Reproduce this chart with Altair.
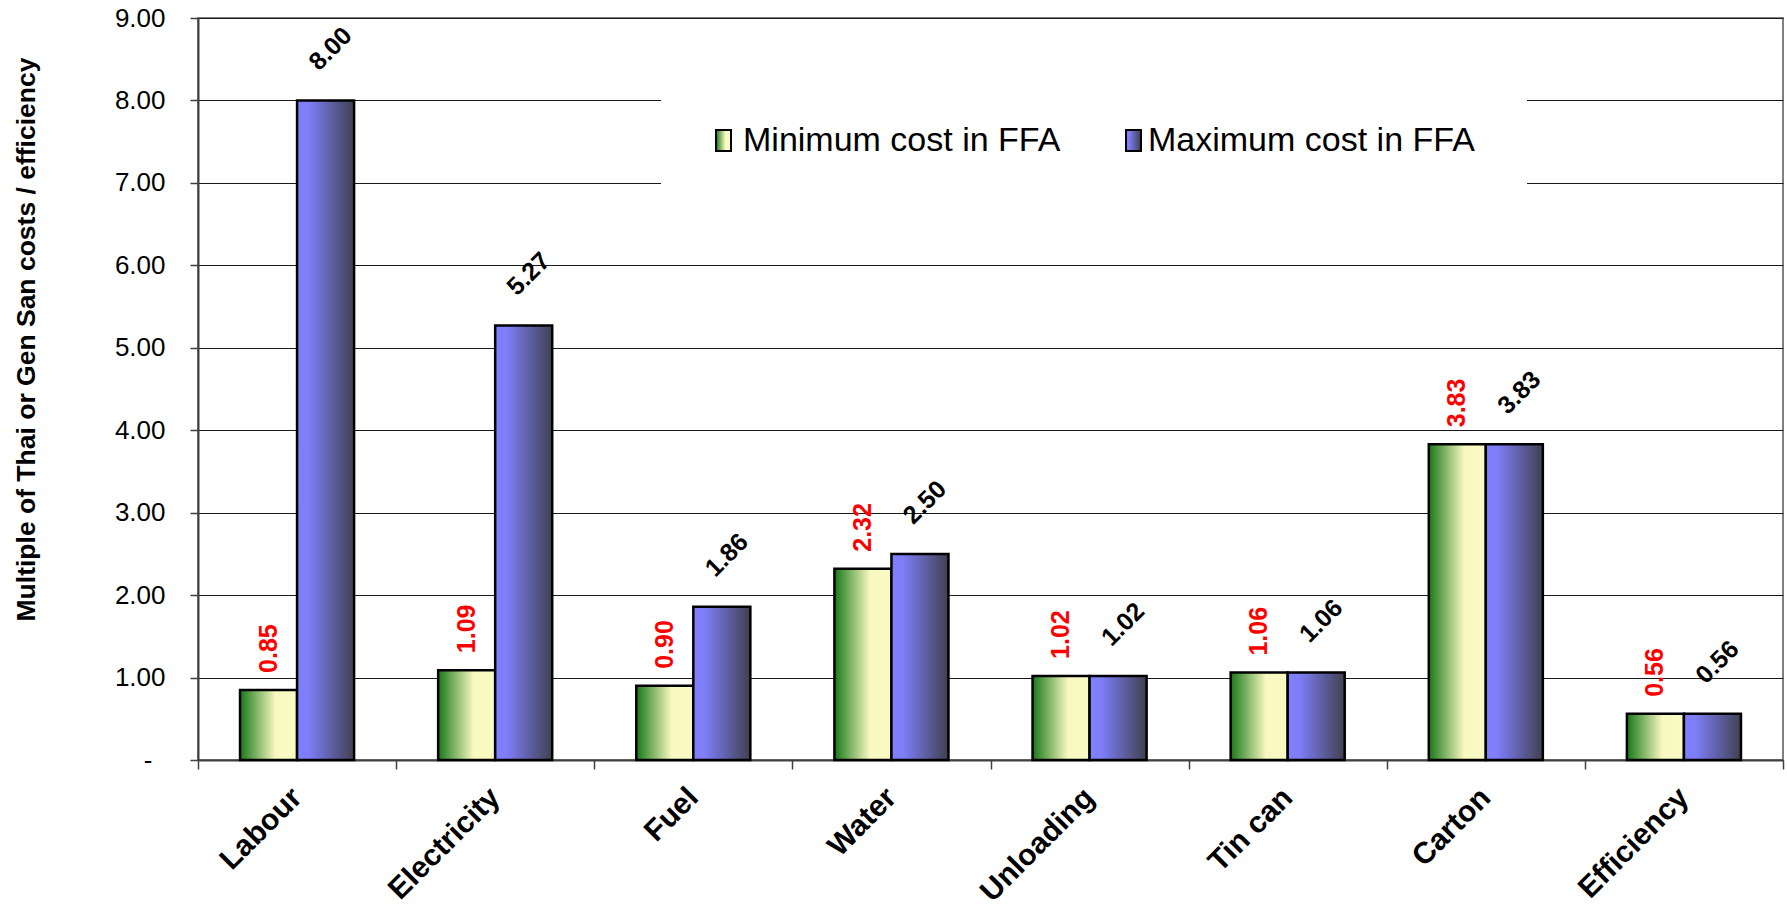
import altair as alt
import pandas as pd

# Cost multiples per item, for the lowest and highest FFA cost scenario
categories = ["Labour", "Electricity", "Fuel", "Water", "Unloading", "Tin can", "Carton", "Efficiency"]
min_cost = [0.85, 1.09, 0.90, 2.32, 1.02, 1.06, 3.83, 0.56]
max_cost = [8.00, 5.27, 1.86, 2.50, 1.02, 1.06, 3.83, 0.56]
series_names = ["Minimum cost in FFA", "Maximum cost in FFA"]
y_ticks = [0, 1, 2, 3, 4, 5, 6, 7, 8, 9]

rows = []
for cat, lo, hi in zip(categories, min_cost, max_cost):
    rows.append({"category": cat, "series": series_names[0], "value": lo})
    rows.append({"category": cat, "series": series_names[1], "value": hi})
df = pd.DataFrame(rows)

W, H = 1585, 742
FONT = "Liberation Sans"

green_fill = alt.LinearGradient(
    gradient="linear", x1=0, x2=1, y1=0, y2=0,
    stops=[alt.GradientStop(offset=0, color="#187818"),
           alt.GradientStop(offset=0.62, color="#f8f8c0"),
           alt.GradientStop(offset=1, color="#fafac4")],
)
blue_fill = alt.LinearGradient(
    gradient="linear", x1=0, x2=1, y1=0, y2=0,
    stops=[alt.GradientStop(offset=0, color="#8080ff"),
           alt.GradientStop(offset=0.2, color="#7e7ef8"),
           alt.GradientStop(offset=1, color="#404050")],
)

x_enc = alt.X(
    "category:N", sort=categories, title=None,
    scale=alt.Scale(paddingInner=0, paddingOuter=0),
    axis=alt.Axis(
        labelAngle=-45, labelAlign="right", labelBaseline="top",
        labelFont=FONT, labelFontWeight="bold", labelFontSize=30, labelColor="black",
        labelPadding=13, labelOffset=-11,
        tickBand="extent", tickSize=9, tickWidth=1.5, tickColor="#404040",
        domainColor="#404040", domainWidth=2, grid=False,
    ),
)
xoff_enc = alt.XOffset(
    "series:N", sort=series_names,
    scale=alt.Scale(domain=series_names, paddingInner=0, paddingOuter=0.737),
)
y_enc = alt.Y(
    "value:Q",
    scale=alt.Scale(domain=[0, 9], nice=False, zero=True),
    axis=alt.Axis(
        values=y_ticks,
        labelExpr="datum.value == 0 ? '-' : format(datum.value, '.2f')",
        labelFont=FONT, labelFontSize=26, labelColor="black",
        labelPadding={"condition": {"test": "datum.value == 0", "value": 38}, "value": 25},
        tickSize=8, tickWidth=1.5, tickColor="#404040",
        domainColor="#404040", domainWidth=2,
        grid=True, gridColor="#1a1a1a", gridWidth=1,
        title="Multiple of Thai or Gen San costs / efficiency",
        titleFont=FONT, titleFontWeight="bold", titleFontSize=26.5, titleColor="black",
        titleAngle=270, titleX=-172, titleY=321, titleAlign="center", titleBaseline="middle",
    ),
)

base = alt.Chart(df).encode(x=x_enc, xOffset=xoff_enc, y=y_enc)
is_min = alt.datum.series == series_names[0]
is_max = alt.datum.series == series_names[1]

min_bars = base.transform_filter(is_min).mark_bar(color=green_fill, stroke="black", strokeWidth=2.5)
max_bars = base.transform_filter(is_max).mark_bar(color=blue_fill, stroke="black", strokeWidth=2.5)

min_labels = base.transform_filter(is_min).mark_text(
    angle=270, align="left", baseline="middle", dx=17,
    font=FONT, fontWeight="bold", fontSize=25, color="#ff0000",
).encode(text=alt.Text("value:Q", format=".2f"))
max_labels = base.transform_filter(is_max).mark_text(
    angle=315, align="center", baseline="middle", dx=40, dy=-33,
    font=FONT, fontWeight="bold", fontSize=25, color="black",
).encode(text=alt.Text("value:Q", format=".2f"))

# Legend: white panel over the grid, gradient swatches and series names
one = pd.DataFrame({"k": [0]})
legend_bg = alt.Chart(one).mark_rect(color="white").encode(
    x=alt.value(463), x2=alt.value(1329), y=alt.value(62), y2=alt.value(182))
sw_min = alt.Chart(one).mark_rect(color=green_fill, stroke="black", strokeWidth=2).encode(
    x=alt.value(518), x2=alt.value(533), y=alt.value(112), y2=alt.value(133))
sw_max = alt.Chart(one).mark_rect(color=blue_fill, stroke="black", strokeWidth=2).encode(
    x=alt.value(928), x2=alt.value(943), y=alt.value(112), y2=alt.value(133))
legend_df = pd.DataFrame({"name": series_names, "lx": [545, 950]})
legend_text = alt.Chart(legend_df).mark_text(
    align="left", baseline="middle", font=FONT, fontSize=34, color="black",
).encode(x=alt.X("lx:Q", scale=None), y=alt.value(123), text="name:N")

chart = alt.layer(
    min_bars, max_bars, min_labels, max_labels, legend_bg, sw_min, sw_max, legend_text
).properties(
    width=W, height=H,
    autosize=alt.AutoSizeParams(type="none"),
    padding={"left": 198, "top": 18, "right": 4, "bottom": 150},
    background="white",
).configure_view(stroke="#808080", strokeWidth=2)

chart.save("out.html", embed_options={"renderer": "svg", "actions": False})
